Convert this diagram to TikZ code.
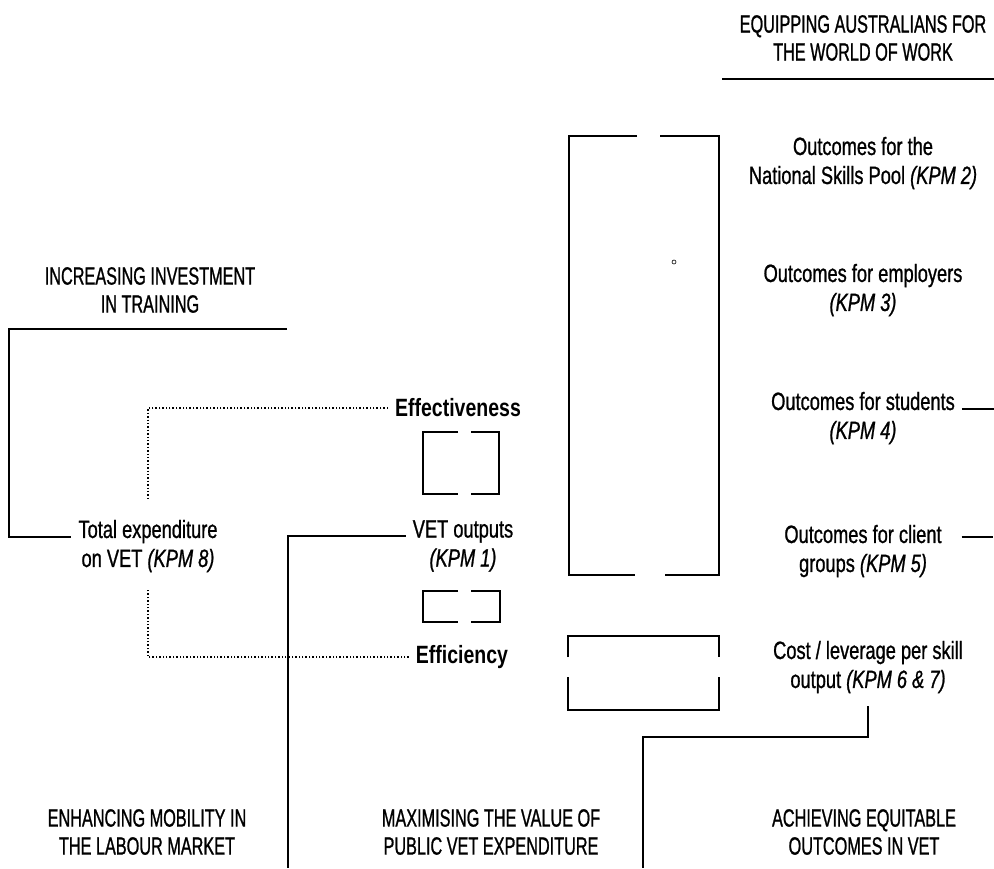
\documentclass[tikz,border=0pt]{standalone}
\usepackage{fontspec}
\setmainfont{Liberation Sans}[FakeStretch=0.73, FakeBold=0.9]
\newfontfamily\headfont{Liberation Sans}[FakeStretch=0.65, FakeBold=0.9]
\newfontfamily\keyfont{Liberation Sans}[FakeStretch=0.78]
\usetikzlibrary{positioning}

\begin{document}
\begin{tikzpicture}[
			x=0.5pt, y=-0.5pt,
			heading/.style={align=center, font=\headfont\fontsize{12.5}{14}\selectfont},
			kpm/.style={align=center, font=\fontsize{12.5}{14.5}\selectfont},
			keyword/.style={font=\keyfont\bfseries\fontsize{12.5}{14}\selectfont},
			rule/.style={line width=0.8pt},
			dots/.style={densely dotted, line width=0.7pt},
			]
			\useasboundingbox (0,0) rectangle (994,868);
			\node [heading] (equip) at (863,38) {EQUIPPING AUSTRALIANS FOR\\THE WORLD OF WORK};
			\node [heading] (invest) at (150,290) {INCREASING INVESTMENT\\IN TRAINING};
			\node [heading] (mobil) at (147,832) {ENHANCING MOBILITY IN\\THE LABOUR MARKET};
			\node [heading] (value) at (491,832) {MAXIMISING THE VALUE OF\\PUBLIC VET EXPENDITURE};
			\node [heading] (equit) at (864,832) {ACHIEVING EQUITABLE\\OUTCOMES IN VET};
			\node [kpm] (total) at (148,546) {Total expenditure\\on VET \textit{(KPM 8)}};
			\node [kpm] (vetout) at (463,546) {VET outputs\\\textit{(KPM 1)}};
			\node [keyword] (effect) at (458,408) {Effectiveness};
			\node [keyword] (effic) at (462,657) {Efficiency};
			\node [kpm] (pool) at (863,163) {Outcomes for the\\National Skills Pool \textit{(KPM 2)}};
			\node [kpm] (employ) at (863,290) {Outcomes for employers\\\textit{(KPM 3)}};
			\node [kpm] (student) at (863,418) {Outcomes for students\\\textit{(KPM 4)}};
			\node [kpm] (client) at (863,551) {Outcomes for client\\groups \textit{(KPM 5)}};
			\node [kpm] (cost) at (868,667) {Cost / leverage per skill\\output \textit{(KPM 6 \& 7)}};
			\coordinate (equipL) at (722,79);
			\coordinate (equipR) at (994,79);
			\coordinate (investR) at (287,329);
			\coordinate (investL) at (9,329);
			\coordinate (vetdrop) at (288,868);
			\coordinate (costdrop) at (643,868);
			\draw [rule] (equipL) -- (equipR);
			\draw [rule] (investR) -- (investL) |- ([yshift=4.5pt]total.west);
			\draw [rule] ([yshift=5pt]vetout.west) -| (vetdrop);
			\draw [rule] ([yshift=-3pt]cost.south) -- ++(0,31) -| (costdrop);
			\draw [rule] ([yshift=4.5pt]student.east) -- ++(34,0);
			\draw [rule] ([xshift=6.5pt,yshift=7pt]client.east) -- ++(31,0);
			\draw [dots] (effect.west) -| ([yshift=6pt]total.north);
			\draw [dots] (effic.west) -| ([yshift=-5pt]total.south);
			\draw [rule] (637,136) -- (569,136) -- (569,575) -- (635,575);
			\draw [rule] (660,136) -- (719,136) -- (719,575) -- (665,575);
			\draw [rule] (568,657) -- (568,636) -- (719,636) -- (719,657);
			\draw [rule] (568,677) -- (568,710) -- (719,710) -- (719,677);
			\draw [rule] (458,432) -- (423,432) -- (423,494) -- (458,494);
			\draw [rule] (471,432) -- (499,432) -- (499,494) -- (471,494);
			\draw [rule] (458,591) -- (423,591) -- (423,622) -- (458,622);
			\draw [rule] (471,591) -- (500,591) -- (500,622) -- (471,622);
			\draw [line width=0.3pt] (674,262) circle [radius=2];
		\end{tikzpicture}
\end{document}
